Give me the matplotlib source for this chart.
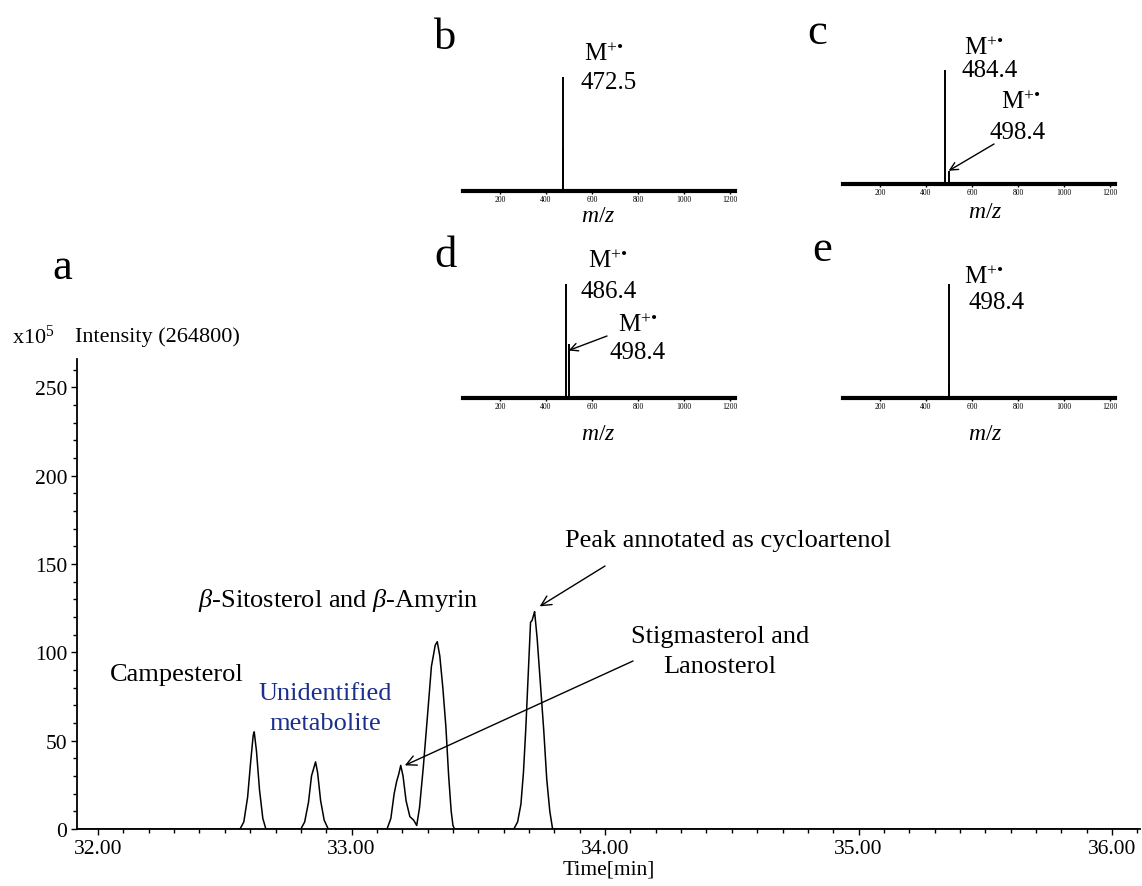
import numpy as np
import matplotlib
matplotlib.use("Agg")
import matplotlib.pyplot as plt
from matplotlib.ticker import MultipleLocator

plt.rcParams['font.family'] = ['Liberation Serif', 'DejaVu Serif']
plt.rcParams['mathtext.fontset'] = 'custom'
plt.rcParams['mathtext.rm'] = 'Liberation Serif'
plt.rcParams['mathtext.it'] = 'Liberation Serif:italic'

# chromatogram trace (time in min, intensity x10^5)
time_min = [31.92,
            32.560, 32.575, 32.590, 32.602, 32.612, 32.616, 32.625, 32.637, 32.650, 32.662,
            32.800, 32.815, 32.830, 32.842, 32.850, 32.858, 32.866, 32.878, 32.892, 32.908,
            33.140, 33.155, 33.168, 33.178, 33.186, 33.194, 33.203, 33.215, 33.230, 33.245,
            33.257, 33.268, 33.283, 33.300, 33.315, 33.330, 33.338, 33.348, 33.360, 33.372,
            33.383, 33.393, 33.400, 33.406,
            33.640, 33.655, 33.668, 33.678, 33.687, 33.697, 33.706, 33.712, 33.718, 33.722,
            33.732, 33.745, 33.758, 33.770, 33.782, 33.793,
            36.10]
intensity = [0,
             0, 4, 18, 38, 53, 55, 44, 22, 6, 0,
             0, 4, 15, 30, 34, 38, 32, 16, 5, 0,
             0, 6, 20, 27, 31, 36, 30, 16, 7, 5,
             2, 12, 35, 65, 92, 104, 106, 98, 80, 58,
             30, 10, 2, 0,
             0, 4, 14, 32, 56, 88, 117, 118, 121, 123,
             108, 82, 56, 28, 10, 0,
             0]

# mass spectra insets: (m/z, relative height)
spec_b_mz = [472.5, 474.0]
spec_b_h = [0.86, 0.32]
spec_c_mz = [484.4, 498.4]
spec_c_h = [0.86, 0.10]
spec_d_mz = [486.4, 498.4]
spec_d_h = [0.86, 0.41]
spec_e_mz = [498.4, 502.0]
spec_e_h = [0.86, 0.10]
mz_ticks = [200, 400, 600, 800, 1000, 1200]

W, H = 1142, 887
fig = plt.figure(figsize=(W / 100, H / 100), dpi=100)


def fx(x):
    return x / W


def fy(y):
    return 1 - y / H


# ---- main chromatogram ----
ax = fig.add_axes([fx(77), fy(830), fx(1140) - fx(77), fy(360) - fy(830)])
ax.plot(time_min, intensity, color='black', lw=1.1)
ax.set_xlim(31.917, 36.11)
ax.set_ylim(0, 266)
for s in ['top', 'right']:
    ax.spines[s].set_visible(False)
ax.spines['left'].set_linewidth(1.3)
ax.spines['bottom'].set_linewidth(1.3)
ax.xaxis.set_major_locator(MultipleLocator(1.0))
ax.xaxis.set_minor_locator(MultipleLocator(0.1))
ax.yaxis.set_major_locator(MultipleLocator(50))
ax.yaxis.set_minor_locator(MultipleLocator(10))
ax.xaxis.set_major_formatter(matplotlib.ticker.FormatStrFormatter('%.2f'))
ax.tick_params(which='both', direction='out', width=1, labelsize=15.5, pad=3)
ax.tick_params(which='major', length=4)
ax.tick_params(which='minor', length=3)
ax.set_xlabel('Time[min]', fontsize=15.5, labelpad=1)

fig.text(fx(12), fy(337), 'x10$^5$', fontsize=16, va='center', ha='left')
fig.text(fx(75), fy(337), 'Intensity (264800)', fontsize=16, va='center', ha='left')
fig.text(fx(62), fy(268), 'a', fontsize=32, va='center', ha='center')

lfs = 19
fig.text(fx(177), fy(675), 'Campesterol', fontsize=lfs, ha='center', va='center')
fig.text(fx(338), fy(601), r'$\it{\beta}$-Sitosterol and $\it{\beta}$-Amyrin', fontsize=lfs,
         ha='center', va='center')
fig.text(fx(325), fy(709), 'Unidentified\nmetabolite', fontsize=lfs, ha='center', va='center',
         color='#1c2f8c', linespacing=1.45)
fig.text(fx(728), fy(541), 'Peak annotated as cycloartenol', fontsize=lfs, ha='center', va='center')
fig.text(fx(720), fy(652), 'Stigmasterol and\nLanosterol', fontsize=lfs, ha='center', va='center',
         linespacing=1.45)

arrow = dict(arrowstyle='->', color='black', lw=1.0, mutation_scale=18, shrinkA=0, shrinkB=0)
ax.annotate('', xy=(33.742, 126), xycoords='data',
            xytext=(fx(605), fy(567)), textcoords='figure fraction', arrowprops=arrow)
ax.annotate('', xy=(33.21, 36), xycoords='data',
            xytext=(fx(633), fy(662)), textcoords='figure fraction', arrowprops=arrow)


# ---- spectra insets ----
def inset(x0, x1, base, mz, h):
    a = fig.add_axes([fx(x0), fy(base), fx(x1) - fx(x0), fy(base - 132) - fy(base)])
    a.vlines(mz, 0, h, color='black', lw=1.4)
    a.set_xlim(39, 1222)
    a.set_ylim(0, 1)
    for s in ['top', 'right', 'left']:
        a.spines[s].set_visible(False)
    a.spines['bottom'].set_linewidth(3)
    a.set_yticks([])
    a.set_xticks(mz_ticks)
    a.tick_params(axis='x', length=2, width=1, labelsize=5.5, pad=1)
    return a


axb = inset(463, 735, 192, spec_b_mz, spec_b_h)
axc = inset(843, 1115, 185, spec_c_mz, spec_c_h)
axd = inset(463, 735, 399, spec_d_mz, spec_d_h)
axe = inset(843, 1115, 399, spec_e_mz, spec_e_h)

for (x, y) in [(598, 217), (985, 213), (598, 435), (985, 435)]:
    fig.text(fx(x), fy(y), '$m$/$z$', fontsize=17, ha='center', va='center')

for (lab, x, y) in [('b', 445, 38), ('c', 817, 33), ('d', 446, 256), ('e', 822, 250)]:
    fig.text(fx(x), fy(y), lab, fontsize=32, ha='center', va='center')

mlab = 'M$^{+\u2022}$'
fs = 18
fig.text(fx(604), fy(55), mlab, fontsize=fs, ha='center', va='center')
fig.text(fx(609), fy(83), '472.5', fontsize=fs, ha='center', va='center')
fig.text(fx(984), fy(49), mlab, fontsize=fs, ha='center', va='center')
fig.text(fx(990), fy(71), '484.4', fontsize=fs, ha='center', va='center')
fig.text(fx(1021), fy(103), mlab, fontsize=fs, ha='center', va='center')
fig.text(fx(1018), fy(133), '498.4', fontsize=fs, ha='center', va='center')
fig.text(fx(608), fy(262), mlab, fontsize=fs, ha='center', va='center')
fig.text(fx(609), fy(292), '486.4', fontsize=fs, ha='center', va='center')
fig.text(fx(638), fy(326), mlab, fontsize=fs, ha='center', va='center')
fig.text(fx(638), fy(353), '498.4', fontsize=fs, ha='center', va='center')
fig.text(fx(984), fy(278), mlab, fontsize=fs, ha='center', va='center')
fig.text(fx(997), fy(303), '498.4', fontsize=fs, ha='center', va='center')

sarrow = dict(arrowstyle='->', color='black', lw=1.0, mutation_scale=14, shrinkA=0, shrinkB=0)
axc.annotate('', xy=(spec_c_mz[1], 0.10), xycoords='data',
             xytext=(fx(994), fy(145)), textcoords='figure fraction', arrowprops=sarrow)
axd.annotate('', xy=(spec_d_mz[1], 0.36), xycoords='data',
             xytext=(fx(607), fy(337)), textcoords='figure fraction', arrowprops=sarrow)

fig.savefig('out.png', dpi=100)
